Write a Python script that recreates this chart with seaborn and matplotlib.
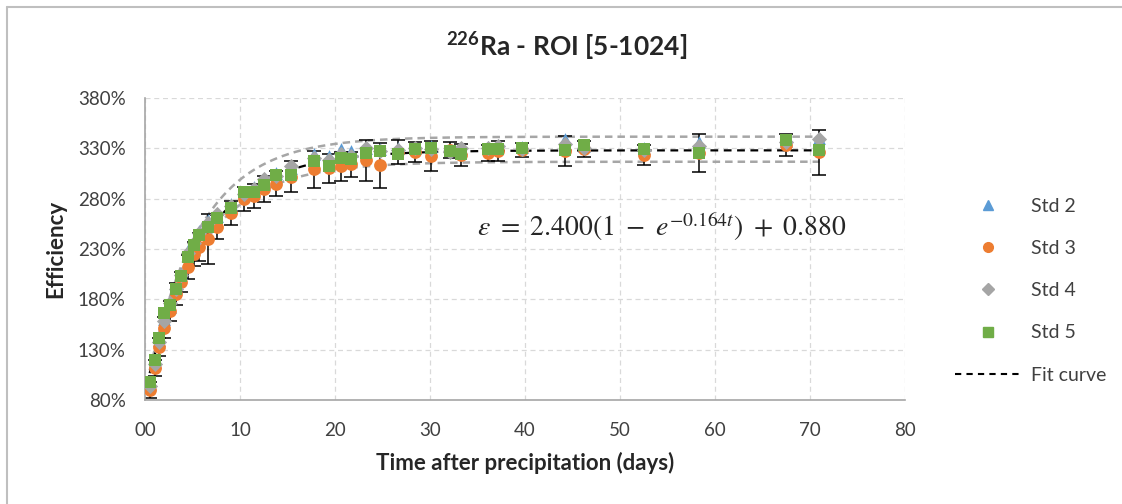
import numpy as np
import pandas as pd
import matplotlib
matplotlib.use("Agg")
import matplotlib.pyplot as plt
import seaborn as sns
from matplotlib.lines import Line2D
from matplotlib.ticker import PercentFormatter, FuncFormatter

# time after precipitation (days), shared by the four standards
days = [0.5, 1.0, 1.5, 2.0, 2.6, 3.3, 3.8, 4.5, 5.2, 5.7, 6.6, 7.6, 9.0, 10.4, 11.5,
        12.5, 13.8, 15.4, 17.8, 19.4, 20.6, 21.7, 23.3, 24.7, 26.6, 28.4, 30.1, 32.1,
        33.3, 36.1, 37.2, 39.7, 44.2, 46.2, 52.5, 58.3, 67.5, 70.9]

# efficiency (%)
std2 = [96, 118, 140, 160, 172, 192, 206, 229, 238, 248, 259, 263, 275, 287, 292,
        297, 305, 310, 324, 322, 329, 327, 330, 329, 330, 330, 332, 328,
        330, 331, 333, 331, 339, 332, 330, 336, 337, 340]
std3 = [90, 112, 133, 152, 168, 185, 197, 212, 225, 232, 240, 252, 266, 280, 283,
        290, 295, 302, 309, 310, 312, 314, 318, 313, 326, 326, 322, 328,
        323, 325, 327, 328, 327, 329, 323, 325, 333, 326]
std4 = [94, 116, 138, 158, 176, 190, 204, 226, 236, 246, 256, 265, 273, 285, 290,
        300, 303, 312, 320, 318, 324, 322, 330, 327, 328, 330, 329, 326,
        330, 330, 332, 329, 334, 330, 328, 332, 336, 339]
std5 = [98, 120, 142, 166, 174, 190, 203, 222, 234, 244, 252, 261, 271, 287, 287,
        294, 304, 304, 317, 312, 320, 319, 325, 327, 324, 329, 330, 327,
        324, 329, 329, 330, 328, 333, 329, 325, 338, 328]
# error bars (+/- %)
err = [8, 8, 9, 10, 10, 11, 10, 12, 12, 14, 25, 12, 12, 12, 12,
       13, 12, 15, 18, 14, 14, 12, 20, 22, 12, 10, 15, 8,
       11, 8, 10, 7, 15, 8, 10, 19, 11, 22]

series_names = ["Std 2", "Std 3", "Std 4", "Std 5"]
colors = {"Std 2": "#5B9BD5", "Std 3": "#ED7D31", "Std 4": "#A5A5A5", "Std 5": "#70AD47"}
markers = {"Std 2": "^", "Std 3": "o", "Std 4": "D", "Std 5": "s"}
sizes = {"Std 2": 85, "Std 3": 85, "Std 4": 60, "Std 5": 80}

# fit eps = A(1 - exp(-k t)) + B, plus upper / lower bound curves
fit_main = (2.400, 0.164, 0.880)
fit_upper = (2.536, 0.178, 0.880)
fit_lower = (2.287, 0.168, 0.880)

sns.set_style("white")
plt.rcParams["font.family"] = ["Lato", "DejaVu Sans"]
plt.rcParams["mathtext.fontset"] = "custom"
plt.rcParams["mathtext.rm"] = "Lato"
plt.rcParams["mathtext.bf"] = "Lato:bold"

df = pd.DataFrame({
    "days": days * 4,
    "eff": std2 + std3 + std4 + std5,
    "std": sum([[n] * len(days) for n in series_names], []),
})


def curve(t, p):
    a, kk, b = p
    return (a * (1 - np.exp(-kk * t)) + b) * 100


fig = plt.figure(figsize=(11.22, 5.04), dpi=100)
ax = fig.add_axes([145 / 1122, 1 - 400 / 504, 760 / 1122, 302 / 504])

tt = np.linspace(0.5, 71, 400)
sns.lineplot(x=tt, y=curve(tt, fit_upper), ax=ax, color="#A6A6A6", lw=1.8, dashes=(3, 2), zorder=1)
sns.lineplot(x=tt, y=curve(tt, fit_lower), ax=ax, color="#A6A6A6", lw=1.8, dashes=(3, 2), zorder=1)
sns.lineplot(x=tt, y=curve(tt, fit_main), ax=ax, color="black", lw=1.6, dashes=(3.5, 2.5), zorder=2)

ax.errorbar(days, std3, yerr=err, fmt="none", ecolor="black", elinewidth=1.1,
            capsize=4.8, capthick=1.1, zorder=2.5)

for name in series_names:
    sub = df[df["std"] == name]
    sns.scatterplot(data=sub, x="days", y="eff", ax=ax, color=colors[name],
                    marker=markers[name], s=sizes[name], linewidth=0, zorder=3, legend=False)

ax.set_xlim(0, 80)
ax.set_ylim(80, 380)
ax.set_xticks(range(0, 81, 10))
ax.set_yticks(range(80, 381, 50))
ax.xaxis.set_major_formatter(FuncFormatter(lambda v, p: f"{int(v):02d}"))
ax.yaxis.set_major_formatter(PercentFormatter(100, decimals=0))
ax.tick_params(axis="both", length=0, labelsize=13.5, colors="#404040")
ax.tick_params(axis="x", pad=16)
ax.tick_params(axis="y", pad=14)
ax.grid(True, color="#D9D9D9", linestyle=(0, (4, 3)), lw=0.9)
for s in ["top", "right"]:
    ax.spines[s].set_visible(False)
for s in ["left", "bottom"]:
    ax.spines[s].set_color("#A6A6A6")
    ax.spines[s].set_linewidth(1.2)

ax.set_xlabel("Time after precipitation (days)", fontsize=16, fontweight="bold")
ax.set_ylabel("Efficiency", fontsize=16, fontweight="bold")
ax.xaxis.set_label_coords(0.5, -(462.7 - 400) / 302)
ax.xaxis.label.set_va("center")
ax.yaxis.set_label_coords((56 - 145) / 760, 0.5)
ax.yaxis.label.set_va("center")

ax.text(54.4, 252, r"$\varepsilon\ =\ 2.400(1\ -\ e^{-0.164t})\ +\ 0.880$",
        math_fontfamily="stix", fontsize=20, ha="center", va="center")

fig.text(0.505, 1 - 47 / 504, r"$\mathbf{^{226}}$Ra - ROI [5-1024]",
         fontsize=19, fontweight="bold", ha="center", va="center")

handles = [Line2D([], [], linestyle="none", marker=markers[n], color=colors[n],
                  markersize=7 if n != "Std 4" else 6) for n in series_names]
handles.append(Line2D([], [], color="black", lw=1.5, dashes=(3, 2.5)))
fig.legend(handles, series_names + ["Fit curve"], loc="upper left",
           bbox_to_anchor=(937 / 1122, 1 - 180 / 504), frameon=False,
           fontsize=14, labelspacing=1.3, handlelength=3.4, handletextpad=0.55,
           labelcolor="#404040")

# chart frame
fig.add_artist(Line2D([7 / 1122, 7 / 1122], [0, 1 - 7 / 504], color="#BFBFBF", lw=1.5))
fig.add_artist(Line2D([7 / 1122, 1], [1 - 7 / 504, 1 - 7 / 504], color="#BFBFBF", lw=1.5))

fig.savefig("out.png", dpi=100)
